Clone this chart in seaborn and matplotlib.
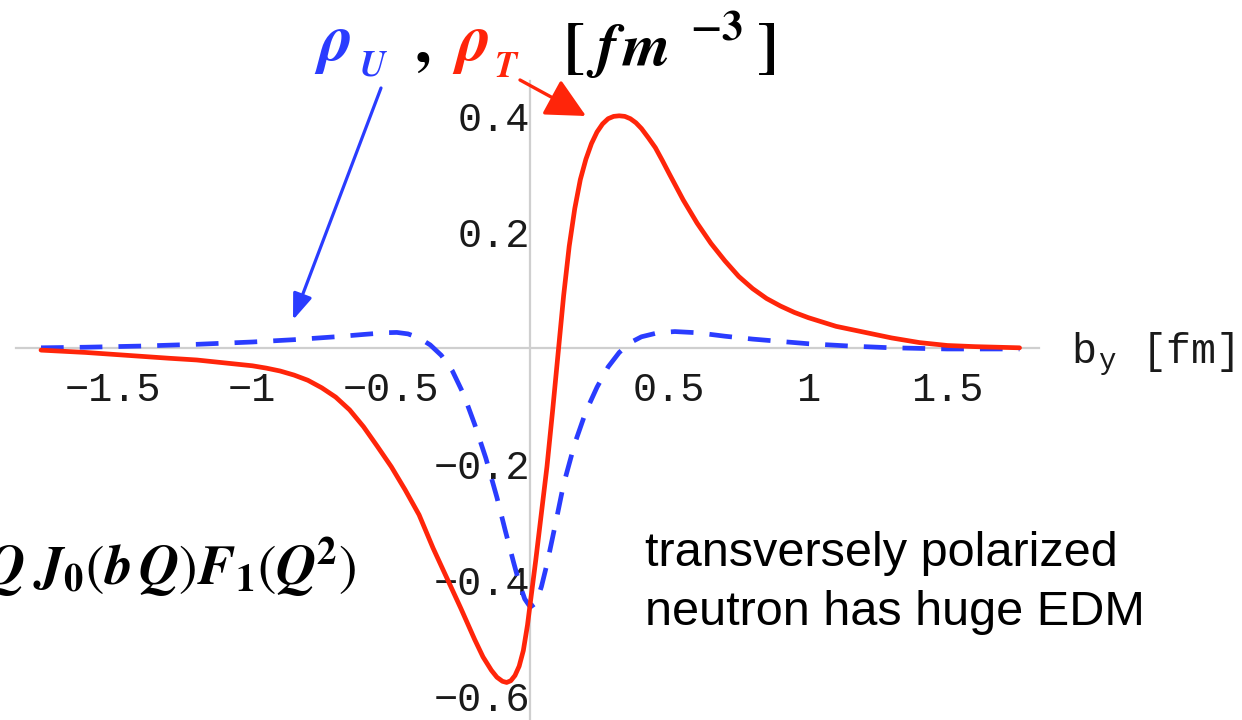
import matplotlib
matplotlib.use("Agg")
import matplotlib.pyplot as plt
from matplotlib.ticker import FixedLocator, MultipleLocator
import seaborn as sns

# Transverse charge densities of the neutron versus impact parameter b_y [fm]
b_T = [-1.76, -1.60, -1.45, -1.30, -1.20, -1.10, -1.00, -0.95, -0.90, -0.85,
       -0.80, -0.75, -0.70, -0.65, -0.60, -0.55, -0.50, -0.45, -0.40, -0.35,
       -0.30, -0.25, -0.20, -0.17, -0.14, -0.12, -0.10, -0.085, -0.07, -0.055,
       -0.04, -0.025, -0.01, 0.00, 0.02, 0.04, 0.06, 0.08, 0.10, 0.12,
       0.14, 0.16, 0.18, 0.20, 0.22, 0.24, 0.26, 0.28, 0.30, 0.32,
       0.34, 0.36, 0.38, 0.40, 0.425, 0.45, 0.475, 0.50, 0.55, 0.60,
       0.65, 0.70, 0.75, 0.80, 0.85, 0.90, 0.95, 1.00, 1.10, 1.20,
       1.30, 1.40, 1.50, 1.60, 1.76]
rho_T = [-0.004, -0.008, -0.013, -0.018, -0.021, -0.026, -0.031, -0.035, -0.040, -0.047,
         -0.056, -0.069, -0.085, -0.107, -0.136, -0.170, -0.205, -0.245, -0.288, -0.345,
         -0.397, -0.449, -0.503, -0.533, -0.556, -0.568, -0.575, -0.577, -0.574, -0.565,
         -0.549, -0.522, -0.478, -0.440, -0.365, -0.285, -0.205, -0.110, -0.010, 0.090,
         0.175, 0.240, 0.290, 0.325, 0.352, 0.372, 0.386, 0.395, 0.399, 0.400,
         0.399, 0.395, 0.388, 0.378, 0.362, 0.345, 0.323, 0.300, 0.255, 0.215,
         0.180, 0.150, 0.123, 0.102, 0.085, 0.072, 0.061, 0.052, 0.037, 0.027,
         0.017, 0.009, 0.004, 0.002, 0.000]

b_U = [-1.76, -1.60, -1.40, -1.20, -1.00, -0.85, -0.70, -0.60, -0.52, -0.48,
       -0.44, -0.40, -0.36, -0.32, -0.28, -0.24, -0.20, -0.16, -0.12, -0.09,
       -0.06, -0.04, -0.02, 0.00, 0.02, 0.04, 0.06, 0.09, 0.12, 0.16,
       0.20, 0.24, 0.28, 0.32, 0.36, 0.40, 0.46, 0.52, 0.60, 0.70,
       0.80, 0.90, 1.00, 1.15, 1.30, 1.50, 1.76]
rho_U = [0.000, 0.001, 0.003, 0.006, 0.010, 0.014, 0.019, 0.023, 0.026, 0.0265,
         0.024, 0.017, 0.005, -0.013, -0.040, -0.080, -0.132, -0.190, -0.258, -0.315,
         -0.370, -0.405, -0.433, -0.447, -0.440, -0.412, -0.373, -0.305, -0.235, -0.165,
         -0.110, -0.068, -0.033, -0.008, 0.009, 0.019, 0.026, 0.028, 0.026, 0.020,
         0.015, 0.011, 0.007, 0.003, 0.000, -0.002, -0.002]

x_ticks = [-1.5, -1.0, -0.5, 0.5, 1.0, 1.5]
x_tick_labels = ["\u22121.5", "\u22121", "\u22120.5", "0.5", "1", "1.5"]
y_ticks = [-0.6, -0.4, -0.2, 0.2, 0.4]
y_tick_labels = ["\u22120.6", "\u22120.4", "\u22120.2", "0.2", "0.4"]

sns.set_style("white")
MONO = ["Liberation Mono", "DejaVu Sans Mono"]
SANS = ["Liberation Sans", "DejaVu Sans"]
plt.rcParams["font.family"] = MONO
plt.rcParams["mathtext.fontset"] = "stix"

RED = "#ff250a"
BLUE = "#2a3cff"
INK = "#1a1a1a"
W, H = 1242, 720

fig = plt.figure(figsize=(W / 100, H / 100), dpi=100)
fig.patch.set_facecolor("white")
ax = fig.add_axes([16 / W, 1 / H, 1023 / W, 638 / H])
ax.set_facecolor("none")
ax.set_xlim(-1.85, 1.83)
ax.set_ylim(-0.64, 0.46)

sns.lineplot(x=b_U, y=rho_U, ax=ax, color=BLUE, linewidth=3.4,
             linestyle=(0, (4.8, 3.4)), estimator=None, sort=False, zorder=3,
             dash_capstyle="butt")
sns.lineplot(x=b_T, y=rho_T, ax=ax, color=RED, linewidth=3.4,
             estimator=None, sort=False, zorder=4)

# Axes crossing at the origin
for side in ("top", "right"):
    ax.spines[side].set_visible(False)
for side in ("left", "bottom"):
    ax.spines[side].set_position(("data", 0))
    ax.spines[side].set_color("#cfcfcf")
    ax.spines[side].set_linewidth(1.6)
    ax.spines[side].set_zorder(1)

ax.xaxis.set_major_locator(FixedLocator(x_ticks))
ax.xaxis.set_ticklabels(x_tick_labels)
ax.yaxis.set_major_locator(FixedLocator(y_ticks))
ax.yaxis.set_ticklabels(y_tick_labels)
ax.xaxis.set_minor_locator(MultipleLocator(0.1))
ax.yaxis.set_minor_locator(MultipleLocator(0.05))
ax.tick_params(which="major", direction="in", length=6, width=1.0,
               color="#b8b8b8", labelsize=29, labelcolor=INK)
ax.tick_params(which="minor", direction="in", length=3.5, width=0.8,
               color="#c8c8c8")
ax.tick_params(axis="x", which="major", pad=17)
ax.tick_params(axis="y", which="major", pad=0)
ax.set_xlabel("")
ax.set_ylabel("")


def put(x, y, s, size, color="black", **kw):
    """Place text with its left baseline at pixel (x, y) from the top-left."""
    return fig.text(x / W, 1 - y / H, s, fontsize=size, color=color,
                    va="baseline", ha="left", **kw)


# Horizontal axis label
put(1071, 363, "b", 30, INK, family=MONO)
put(1098, 369, "y", 21, INK, family=MONO)
put(1142, 363, "[fm]", 30, INK, family=MONO)

# Vertical axis heading
put(314, 60, r"$\mathbfit{\rho}$", 48, BLUE)
put(359, 76, r"$\mathbfit{U}$", 26, BLUE)
put(414, 62, r"$\mathbf{,}$", 46, "black")
put(452, 60, r"$\mathbfit{\rho}$", 48, RED)
put(494, 77, r"$\mathbfit{T}$", 26, RED)
put(563, 66, r"$\mathbf{[}$", 46, "black")
put(586, 66, r"$\mathbfit{f}$", 44, "black")
put(622, 66, r"$\mathbfit{m}$", 44, "black")
put(690, 40, r"$\mathbf{-3}$", 30, "black")
put(756, 66, r"$\mathbf{]}$", 46, "black")

# Arrows pointing from the heading to the curves
ax.annotate("", xy=(293, H - 320), xycoords="figure pixels",
            xytext=(381, H - 88), textcoords="figure pixels",
            arrowprops=dict(arrowstyle="-|>,head_length=0.75,head_width=0.28",
                            mutation_scale=21, color=BLUE, lw=2.3,
                            shrinkA=0, shrinkB=0),
            annotation_clip=False)
ax.annotate("", xy=(586, H - 116), xycoords="figure pixels",
            xytext=(520, H - 80), textcoords="figure pixels",
            arrowprops=dict(arrowstyle="-|>,head_length=0.72,head_width=0.36",
                            mutation_scale=34, color=RED, lw=2.4,
                            shrinkA=0, shrinkB=0),
            annotation_clip=False)

# Integrand of the transverse density
put(-16, 584,
    r"$\mathbfit{Q}\;\mathbfit{J}_{\mathbf{0}}(\mathbfit{b}\,\mathbfit{Q})"
    r"\mathbfit{F}_{\mathbf{1}}(\mathbfit{Q}^{\mathbf{2}})$", 40, "black")

# Annotation
put(645, 566, "transversely polarized", 35, "black", family=SANS)
put(645, 625, "neutron has huge EDM", 35, "black", family=SANS)

fig.savefig("out.png", dpi=100, facecolor="white")
